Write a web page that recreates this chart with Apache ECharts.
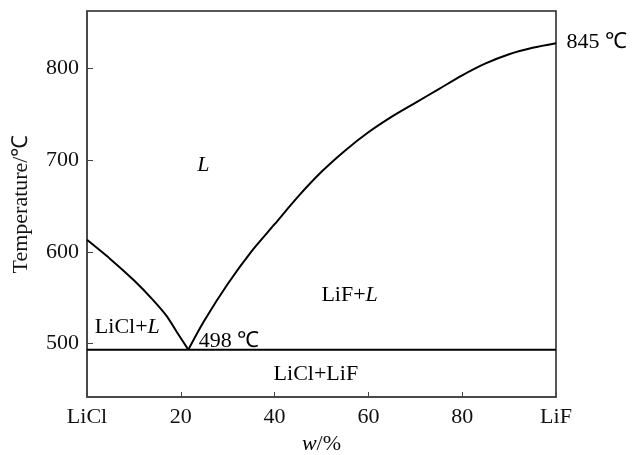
<!DOCTYPE html>
<html>
<head>
    <meta charset="utf-8">
    <title>LiCl-LiF</title>
    <script src="https://cdn.jsdelivr.net/npm/echarts@6/dist/echarts.min.js"></script>
    <style>
        html, body { margin: 0; padding: 0; background: #fff; }
        #main { width: 638px; height: 455px; }
    </style>
</head>
<body>
    <div id="main"></div>
    <script>
        // liquidus, LiCl side
        const leftLiquidus = [[0, 613], [5, 592], [10, 569], [14, 548], [17, 530], [19.5, 510], [21.6, 493.5]];
        // liquidus, LiF side
        const rightLiquidus = [
            [21.6, 493.5], [25, 525], [30, 565], [35, 600], [40, 630], [45, 660],
            [50, 687], [55, 710], [60, 730], [65, 747], [70, 762], [75, 777],
            [80, 792], [85, 805], [90, 815], [95, 822], [100, 827]
        ];
        const eutecticLine = [[0, 493.5], [100, 493.5]];
        const yTicks = [500, 600, 700, 800];
        const xTickLabels = { 0: 'LiCl', 20: '20', 40: '40', 60: '60', 80: '80', 100: 'LiF' };
        // [x, T, text]
        const regionLabels = [
            [24.8, 694, '{i|L}'],
            [56, 553, 'LiF+{i|L}'],
            [8.6, 518, 'LiCl+{i|L}'],
            [48.8, 467, 'LiCl+LiF']
        ];
        const pointLabels = [
            [21.6, 503, '498 ℃'],
            [100, 828, '845 ℃']
        ];

        const serif = "'Liberation Serif', 'Times New Roman', serif";
        const rich = { i: { fontStyle: 'italic', fontFamily: serif, fontSize: 22, color: '#000' } };
        const hidden = { color: 'rgba(0,0,0,0)' };

        const chart = echarts.init(document.getElementById('main'));
        chart.setOption({
            animation: false,
            grid: {
                left: 87, right: 82, top: 11, bottom: 58,
                outerBoundsMode: 'none',
                show: true, borderColor: '#222', borderWidth: 1.5
            },
            xAxis: {
                type: 'value', min: 0, max: 100, interval: 20,
                axisLine: { lineStyle: { color: '#444', width: 1.5 } },
                axisTick: { inside: true, length: 5, lineStyle: { color: '#444' } },
                splitLine: { show: false },
                axisLabel: {
                    margin: 9, fontFamily: serif, fontSize: 22, color: '#111',
                    formatter: v => xTickLabels[v]
                },
                name: '{i|w}/%',
                nameLocation: 'middle', nameGap: 30,
                nameTextStyle: { fontFamily: serif, fontSize: 22, color: '#111', rich: rich }
            },
            yAxis: {
                type: 'value', min: 442, max: 862,
                axisLine: { show: true, lineStyle: { color: '#444', width: 1.5 } },
                axisTick: { show: true, inside: true, length: 6, customValues: yTicks, lineStyle: { color: '#444' } },
                splitLine: { show: false },
                axisLabel: { margin: 8, fontFamily: serif, fontSize: 22, color: '#111', customValues: yTicks },
                name: 'Temperature/℃',
                nameLocation: 'middle', nameGap: 55, nameRotate: 90,
                nameTextStyle: { fontFamily: serif, fontSize: 22, color: '#111' }
            },
            series: [
                {
                    type: 'line', data: leftLiquidus, smooth: 0.2, symbol: 'none',
                    lineStyle: { color: '#000', width: 2 }
                },
                {
                    type: 'line', data: rightLiquidus, smooth: 0.3, symbol: 'none',
                    lineStyle: { color: '#000', width: 2 }
                },
                {
                    type: 'line', data: eutecticLine, symbol: 'none',
                    lineStyle: { color: '#000', width: 2 }
                },
                {
                    type: 'scatter', symbolSize: 1, itemStyle: hidden,
                    data: regionLabels,
                    label: {
                        show: true, position: 'inside',
                        formatter: p => p.data[2],
                        fontFamily: serif, fontSize: 22, color: '#000', opacity: 1, rich: rich
                    }
                },
                {
                    type: 'scatter', symbolSize: 1, itemStyle: hidden,
                    data: pointLabels,
                    label: {
                        show: true, position: 'right', distance: 10,
                        formatter: p => p.data[2],
                        fontFamily: serif, fontSize: 22, color: '#000', opacity: 1
                    }
                }
            ]
        });
    </script>
</body>
</html>
